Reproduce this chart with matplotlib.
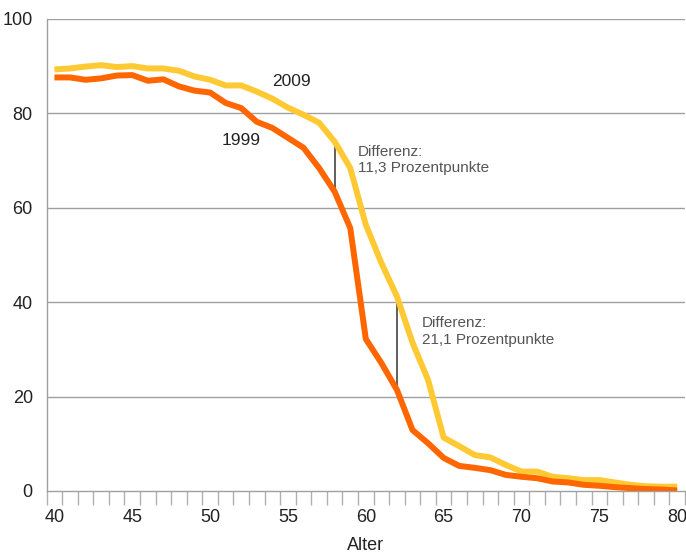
import matplotlib
matplotlib.use("Agg")
import matplotlib.pyplot as plt
import numpy as np

ages = list(range(40, 81))
y2009 = [89.3, 89.5, 89.9, 90.2, 89.8, 90.0, 89.5, 89.5, 89.0, 87.8, 87.1,
         85.9, 85.9, 84.6, 83.1, 81.2, 79.7, 78.0, 74.0, 68.4, 56.4,
         48.3, 41.2, 31.4, 23.5, 11.3, 9.5, 7.6, 7.1, 5.5, 4.1,
         4.1, 3.0, 2.7, 2.3, 2.3, 1.8, 1.3, 1.0, 0.9, 0.9]
y1999 = [87.6, 87.6, 87.1, 87.4, 88.0, 88.1, 86.9, 87.2, 85.7, 84.8, 84.4,
         82.2, 81.1, 78.2, 76.9, 74.8, 72.7, 68.4, 63.4, 55.7, 32.2,
         27.1, 21.4, 12.9, 10.1, 7.0, 5.3, 4.9, 4.4, 3.4, 3.0,
         2.7, 2.0, 1.8, 1.3, 1.1, 0.8, 0.6, 0.4, 0.3, 0.1]
xtick_labels = [40, 45, 50, 55, 60, 65, 70, 75, 80]
ytick_vals = [0, 20, 40, 60, 80, 100]
diff_ages = [58, 62]
diff_texts = ["Differenz:\n11,3 Prozentpunkte", "Differenz:\n21,1 Prozentpunkte"]

plt.rcParams['font.family'] = ['Liberation Sans', 'DejaVu Sans']

fig = plt.figure(figsize=(6.86, 5.56), dpi=100)
ax = fig.add_axes([0.068, 0.117, 0.9305, 0.849])

c2009 = '#FFC933'
c1999 = '#FF6600'
ax.plot(ages, y2009, color=c2009, lw=4.3, solid_joinstyle='round', solid_capstyle='butt', zorder=3)
ax.plot(ages, y1999, color=c1999, lw=4.3, solid_joinstyle='round', solid_capstyle='butt', zorder=4)

ax.set_xlim(39.5, 80.5)
ax.set_ylim(0, 100)

ax.set_yticks(ytick_vals)
ax.set_yticklabels([str(v) for v in ytick_vals], fontsize=13, color='#222222')
ax.tick_params(axis='y', length=0, pad=10)
for v in ytick_vals[1:]:
    ax.axhline(v, color='#a0a0a0', lw=1.0, zorder=1)

ax.set_xticks(xtick_labels)
ax.set_xticklabels([str(v) for v in xtick_labels], fontsize=13, color='#222222')
ax.set_xticks(np.arange(39.5, 81.0, 1.0), minor=True)
ax.tick_params(axis='x', which='major', length=0, pad=13)
ax.tick_params(axis='x', which='minor', length=10, color='#b0b0b0', width=1.0)
ax.set_xlabel('Alter', fontsize=13, color='#222222', labelpad=8)

for s in ['top', 'right']:
    ax.spines[s].set_visible(False)
for s in ['left', 'bottom']:
    ax.spines[s].set_color('#a0a0a0')
    ax.spines[s].set_linewidth(1.0)

ax.text(54.0, 86.7, '2009', fontsize=12.5, color='#222222', va='center', ha='left')
ax.text(50.75, 74.2, '1999', fontsize=12.5, color='#222222', va='center', ha='left')

for a, t, (tx, ty) in zip(diff_ages, diff_texts, [(59.5, 70.1), (63.6, 33.8)]):
    i = ages.index(a)
    ax.vlines(a, y1999[i], y2009[i], color='#444444', lw=1.2, zorder=2)
    ax.text(tx, ty, t, fontsize=11, color='#555555', va='center', ha='left', linespacing=1.25)

fig.savefig('out.png', dpi=100)
